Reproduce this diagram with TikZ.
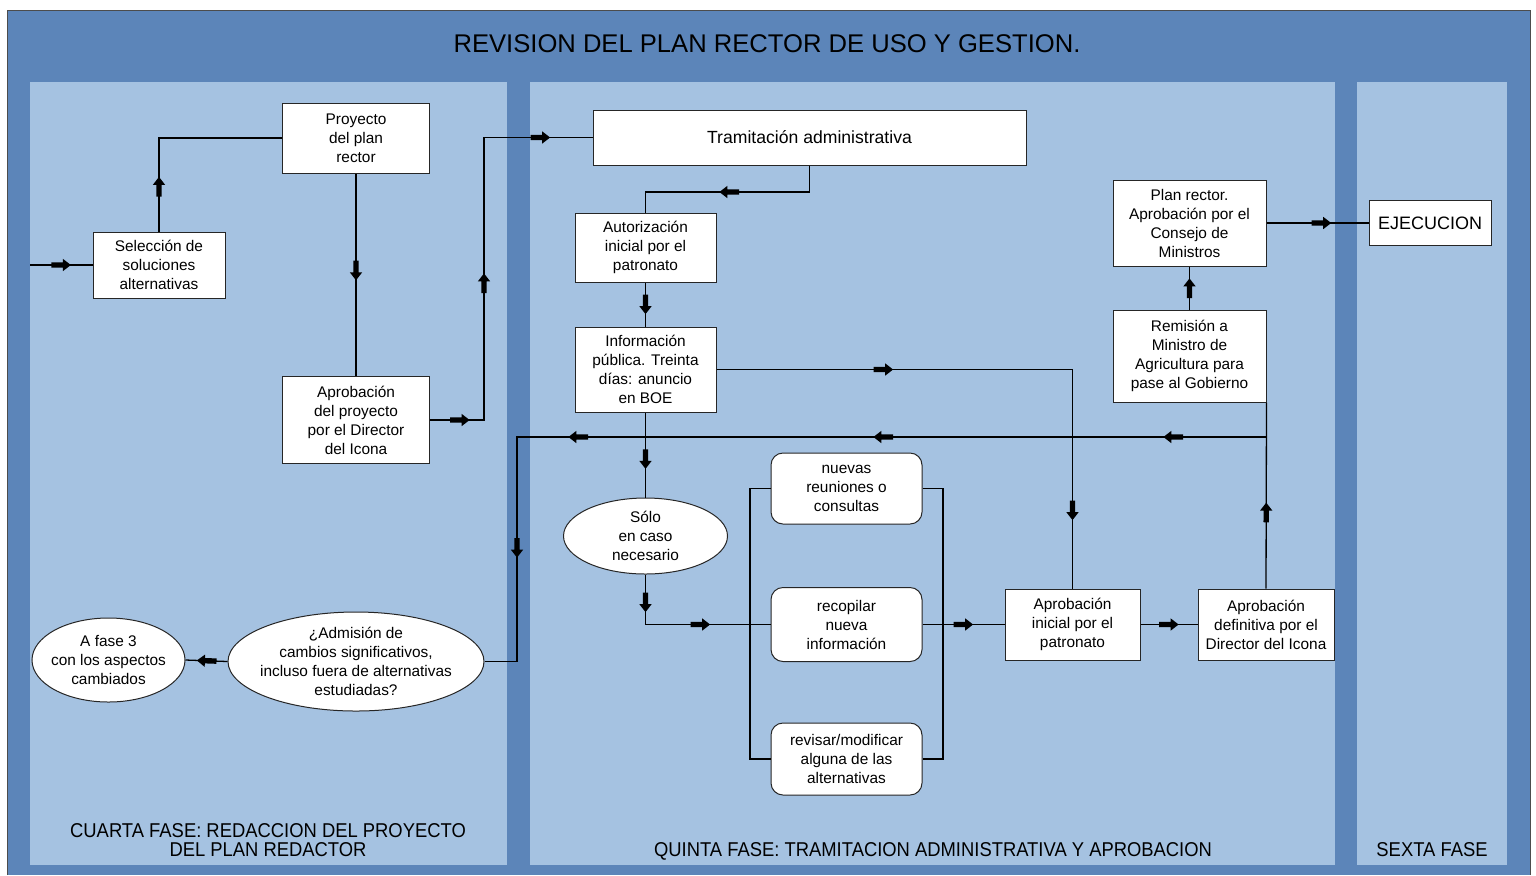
\documentclass[tikz,border=0pt]{standalone}
\usepackage{graphicx}
\usepackage{fontspec}
\setmainfont{Liberation Sans}
\usetikzlibrary{shapes.geometric,decorations.markings}
\definecolor{dk}{RGB}{92,133,185}
\definecolor{lt}{RGB}{165,194,225}
\newcommand\bxf{\fontsize{7.7}{9.5}\selectfont}
\newcommand\phf{\fontsize{10}{9.5}\selectfont}
\newcommand\phx[1]{\scalebox{0.92}[1]{\begin{tabular}{@{}c@{}}#1\end{tabular}}}
\tikzset{
 ar/.style={postaction={decorate,decoration={markings,mark=at position #1 with {\fill[black] (-5pt,-1.35pt) -- (0.8pt,-1.35pt) -- (0.8pt,-3.1pt) -- (4.8pt,0pt) -- (0.8pt,3.1pt) -- (0.8pt,1.35pt) -- (-5pt,1.35pt) -- cycle;}}}},
 conn/.style={draw=black, line width=0.65pt},
 box/.style={draw=black!85, fill=white, line width=0.5pt, align=center, font=\bxf, inner sep=0pt},
 rbox/.style={box, rounded corners=6pt},
 ell/.style={ellipse, draw=black!85, fill=white, line width=0.5pt, inner sep=0pt},
 elltext/.style={align=center, font=\bxf, inner sep=0pt},
 ph/.style={font=\phf, inner sep=0pt},
}
\begin{document}
\begin{tikzpicture}[x=0.5pt,y=-0.5pt]
\useasboundingbox (0,0) rectangle (1536,875);
\fill[white] (0,0) rectangle (1536,875);
\fill[dk] (7,10) rectangle (1530,875);
\draw[black!70, line width=0.5pt] (7,875) -- (7,10) -- (1530,10) -- (1530,875);
\fill[lt] (30,82) rectangle (507,865);
\fill[lt] (530,82) rectangle (1335,865);
\fill[lt] (1357,82) rectangle (1507,865);

\node[font=\fontsize{12.8}{14}\selectfont, inner sep=0pt] (title) at (767,44) {REVISION DEL PLAN RECTOR DE USO Y GESTION.};

% phase labels
\node[ph] (f4) at (268,843) {\phx{CUARTA FASE: REDACCION DEL PROYECTO\\DEL PLAN REDACTOR}};
\node[ph] (f5) at (933,852) {\phx{QUINTA FASE: TRAMITACION ADMINISTRATIVA Y APROBACION}};
\node[ph] (f6) at (1432,852) {\phx{SEXTA FASE}};

% nodes
\node[box, minimum width=66pt, minimum height=33pt] (sel) at (159,265) {Selección de\\soluciones\\alternativas};
\node[box, minimum width=73.5pt, minimum height=35pt] (proy) at (356,138) {Proyecto\\del plan\\rector};
\node[box, minimum width=73.5pt, minimum height=43.5pt] (aprob) at (356,420) {Aprobación\\del proyecto\\por el Director\\del Icona};
\node[box, minimum width=216.5pt, minimum height=27.5pt, font=\fontsize{8.8}{10}\selectfont] (tram) at (809.5,137.5) {Tramitación administrativa};
\node[box, minimum width=70.5pt, minimum height=34.5pt] (aut) at (645.5,247.5) {Autorización\\inicial por el\\patronato};
\node[box, minimum width=70.5pt, minimum height=42.5pt] (info) at (645.5,369.5) {Información\\pública. Treinta\\días: anuncio\\en BOE};
\node[ell, minimum width=82pt, minimum height=38pt, label={[elltext]center:{Sólo\\en caso\\necesario}}] (solo) at (645.5,536) {};
\node[rbox, minimum width=75.5pt, minimum height=35.5pt] (nuevas) at (846.5,488.5) {nuevas\\reuniones o\\consultas};
\node[rbox, minimum width=75.5pt, minimum height=37pt] (recop) at (846.5,624.5) {recopilar\\nueva\\información};
\node[rbox, minimum width=75.5pt, minimum height=36pt] (revis) at (846.5,759) {revisar/modificar\\alguna de las\\alternativas};
\node[box, minimum width=67.5pt, minimum height=35.5pt] (apini) at (1072.5,624.5) {Aprobación\\inicial por el\\patronato};
\node[box, minimum width=68pt, minimum height=35.5pt] (apdef) at (1266,624.5) {Aprobación\\definitiva por el\\Director del Icona};
\node[box, minimum width=76.5pt, minimum height=46pt] (remis) at (1189.5,356) {Remisión a\\Ministro de\\Agricultura para\\pase al Gobierno};
\node[box, minimum width=76.5pt, minimum height=43pt] (plan) at (1189.5,223) {Plan rector.\\Aprobación por el\\Consejo de\\Ministros};
\node[box, minimum width=61pt, minimum height=22.5pt, font=\fontsize{9}{10}\selectfont] (ejec) at (1430,223) {EJECUCION};
\node[ell, minimum width=128pt, minimum height=49.5pt, label={[elltext]center:{¿Admisión de\\cambios significativos,\\incluso fuera de alternativas\\estudiadas?}}] (adm) at (356,661.5) {};
\node[ell, minimum width=76.5pt, minimum height=42pt, label={[elltext]center:{A fase 3\\con los aspectos\\cambiados}}] (fase3) at (108.5,660) {};

% coordinates
\coordinate (in) at (30,265);
\coordinate (j1) at (484,280);
\coordinate (j2) at (645.5,192);
\coordinate (lb) at (750,624.5);
\coordinate (rb) at (943,624.5);
\coordinate (fbR) at (1266,437);
\coordinate (fbL) at (517,437);

% connectors
\draw[conn, ar=0.5] (in) -- (sel.west);
\draw[conn, ar=22.5pt] (sel.north) |- (proy.west);
\draw[conn, ar=0.48] (proy.south) -- (aprob.north);
\draw[conn, ar=15pt, ar=95.5pt, ar=196.5pt] (aprob.east) -| (j1) |- (tram.west);
\draw[conn, ar=53.5pt] (tram.south) |- (j2) -- (aut.north);
\draw[conn, ar=0.5] (aut.south) -- (info.north);
\draw[conn, ar=83.5pt, ar=248.5pt] (info.east) -| (apini.north);
\draw[conn, ar=0.55] (info.south) -- (solo.north);
\draw[conn, ar=14pt, ar=52.5pt] (solo.south) |- (recop.west);
\draw[conn] (nuevas.west) -| (lb) |- (revis.west);
\draw[conn] (nuevas.east) -| (rb) |- (revis.east);
\draw[conn, ar=0.5] (recop.east) -- (apini.west);
\draw[conn, ar=0.5] (apini.east) -- (apdef.west);
\draw[conn, ar=0.41] (apdef.north) -- (remis.south east);
\draw[conn, ar=46.5pt, ar=191.5pt, ar=344pt, ar=430pt] (fbR) -- (fbL) |- (adm.east);
\draw[conn, ar=0.5] (remis.north) -- (plan.south);
\draw[conn, ar=0.54] (plan.east) -- (ejec.west);
\draw[conn, ar=0.5] (adm.west) -- (fase3.east);
\end{tikzpicture}
\end{document}
